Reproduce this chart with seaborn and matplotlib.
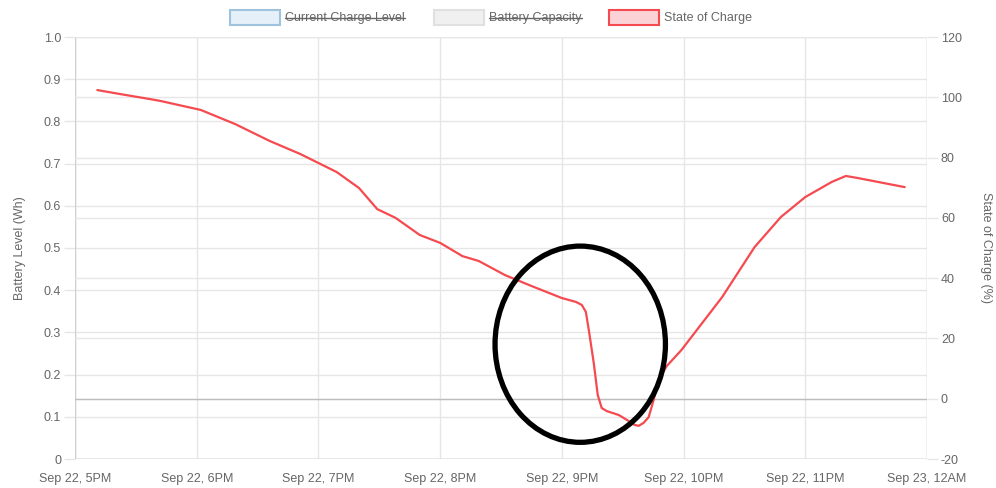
import pandas as pd
import numpy as np
import seaborn as sns
import matplotlib.pyplot as plt
from matplotlib.patches import Ellipse, Rectangle
from matplotlib.lines import Line2D

# data
times = ["17:11:00", "17:22:00", "17:37:00", "17:42:00", "18:02:00", "18:19:00", "18:36:00",
         "18:51:00", "19:00:00", "19:09:00", "19:20:00", "19:29:00", "19:38:00", "19:50:00",
         "20:00:00", "20:11:00", "20:19:00", "20:32:00", "20:45:00", "21:00:00", "21:07:00",
         "21:09:50", "21:11:50", "21:13:17", "21:15:44", "21:17:42", "21:19:40", "21:22:08",
         "21:28:02", "21:32:57", "21:35:54", "21:37:52", "21:40:20", "21:42:48", "21:45:15",
         "21:47:42", "21:51:39", "21:59:00", "22:19:00", "22:35:00", "22:48:00", "23:00:00",
         "23:13:00", "23:20:00", "23:26:00", "23:49:00"]
soc = [102.4, 101.1, 99.4, 98.8, 95.8, 91.1, 85.5,
       81.2, 78.2, 75.2, 69.9, 62.9, 60.0, 54.3,
       51.7, 47.3, 45.7, 41.0, 37.4, 33.4, 32.1,
       31.1, 28.8, 22.8, 11.8, 1.2, -3.1, -4.1,
       -5.4, -7.4, -8.7, -9.0, -8.0, -6.1, -0.4,
       6.2, 10.8, 16.2, 33.7, 50.3, 60.3, 66.9,
       71.9, 73.9, 73.2, 70.2]
hour_ticks = ["2023-09-22 17:00", "2023-09-22 18:00", "2023-09-22 19:00", "2023-09-22 20:00",
              "2023-09-22 21:00", "2023-09-22 22:00", "2023-09-22 23:00", "2023-09-23 00:00"]
hour_labels = ["Sep 22, 5PM", "Sep 22, 6PM", "Sep 22, 7PM", "Sep 22, 8PM",
               "Sep 22, 9PM", "Sep 22, 10PM", "Sep 22, 11PM", "Sep 23, 12AM"]
left_ticks = [0, 0.1, 0.2, 0.3, 0.4, 0.5, 0.6, 0.7, 0.8, 0.9, 1.0]
left_labels = ["0", "0.1", "0.2", "0.3", "0.4", "0.5", "0.6", "0.7", "0.8", "0.9", "1.0"]
right_ticks = [-20, 0, 20, 40, 60, 80, 100, 120]
legend_names = ["Current Charge Level", "Battery Capacity", "State of Charge"]

df = pd.DataFrame({"time": pd.to_datetime(["2023-09-22 " + t for t in times]), "soc": soc})
xt = pd.to_datetime(hour_ticks)

sns.set_style("white")
plt.rcParams['font.family'] = ['Liberation Sans', 'DejaVu Sans']
plt.rcParams['axes.unicode_minus'] = False

txt = '#666666'
grid = '#e6e6e6'
red = '#f54a4f'

fig = plt.figure(figsize=(9.96, 4.88), dpi=100)
ax = fig.add_axes([75/996, 29/488, 852/996, 422/488])
ax2 = ax.twinx()

ax.set_xlim(xt[0], xt[-1])
ax.set_ylim(0, 1.0)
ax2.set_ylim(-20, 120)

ax.set_xticks(xt)
ax.set_xticklabels(hour_labels)
ax.set_yticks(left_ticks)
ax.set_yticklabels(left_labels)
ax2.set_yticks(right_ticks)

ax.grid(True, color=grid, lw=1)
ax2.grid(True, axis='y', color=grid, lw=1)
ax2.axhline(0, color='#bdbdbd', lw=1, zorder=1)

for a in (ax, ax2):
    a.tick_params(colors=grid, labelcolor=txt, labelsize=9, length=8, width=1, pad=2)
    for s in a.spines.values():
        s.set_visible(False)
ax.axvline(xt[0], color='#d0d0d0', lw=1)
ax.axvline(xt[-1], color='#d0d0d0', lw=1)
ax.axhline(0, color='#a8a8a8', lw=1)

sns.lineplot(data=df, x="time", y="soc", ax=ax2, color=red, lw=1.6, zorder=3)
ax2.set_xlabel("")
ax.set_xlabel("")
ax.set_ylabel("Battery Level (Wh)", color=txt, fontsize=9, labelpad=13)
ax2.set_ylabel("State of Charge (%)", color=txt, fontsize=9, rotation=270, labelpad=22)

# hand drawn circle around the drop
ax2.add_patch(Ellipse((0.593, 0.272), 0.2, 0.465, transform=ax2.transAxes,
                      fill=False, ec='black', lw=3.8, zorder=5, clip_on=False))

# legend along the top, hidden datasets struck through
boxes = [(230, '#e6f0f8', '#9fc3dc'), (434, '#f0f0f0', '#e0e0e0'), (609, '#fbd3d6', red)]
for (bx, fc, ec), name in zip(boxes, legend_names):
    fig.patches.append(Rectangle((bx/996, (488-25)/488), 50/996, 15/488,
                                 transform=fig.transFigure, fc=fc, ec=ec, lw=1.5))
    t = fig.text((bx+55)/996, (488-17.5)/488, name, color=txt, fontsize=9, va='center')
    if name != "State of Charge":
        fig.canvas.draw()
        bb = t.get_window_extent().transformed(fig.transFigure.inverted())
        fig.lines.append(Line2D([bb.x0, bb.x1], [(488-17.5)/488]*2,
                                transform=fig.transFigure, color=txt, lw=1))

fig.savefig("out.png", dpi=100)
